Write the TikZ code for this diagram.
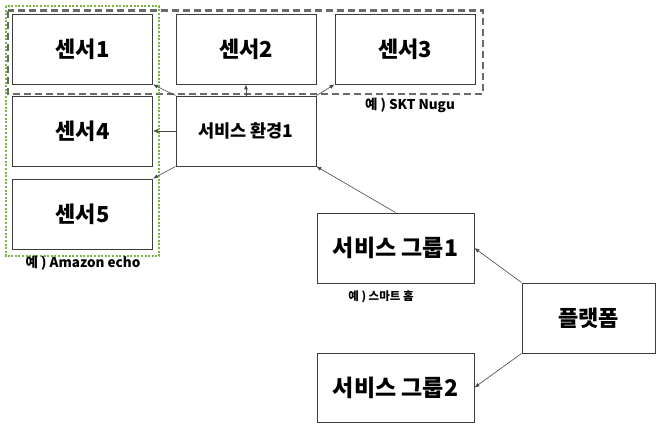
\documentclass[tikz,border=0pt]{standalone}
\usepackage{fontspec}
\setmainfont{Noto Sans CJK KR}
\usetikzlibrary{arrows.meta}
\definecolor{boxline}{RGB}{60,60,60}
\definecolor{arrline}{RGB}{70,70,70}
\definecolor{dashgrey}{RGB}{105,105,105}
\definecolor{dotgreen}{RGB}{125,180,70}
\tikzset{
  box/.style={draw=boxline, line width=0.9pt, rectangle, minimum width=140pt, minimum height=70pt, inner sep=0pt, font=\fontsize{22}{24}\selectfont\bfseries},
  envbox/.style={box, font=\fontsize{17.5}{20}\selectfont\bfseries},
  grpbox/.style={box, minimum width=157pt, font=\fontsize{23}{25}\selectfont\bfseries},
  conn/.style={draw=arrline, line width=0.6pt, -{Latex[length=5pt,width=4pt]}},
  note/.style={font=\fontsize{13.5}{15}\selectfont\bfseries, inner sep=0pt},
}
\begin{document}
\begin{tikzpicture}[x=1pt,y=-1pt]
\useasboundingbox (0,0) rectangle (657,424);
\node[box] (s1) at (82.5,49) {센서1};
\node[box] (s2) at (246,49) {센서2};
\node[box] (s3) at (405,49) {센서3};
\node[box] (s4) at (82.5,131) {센서4};
\node[envbox] (env) at (246,131) {서비스 환경1};
\node[box] (s5) at (82.5,214) {센서5};
\node[grpbox] (g1) at (395.5,248) {서비스 그룹1};
\node[grpbox, minimum height=69pt] (g2) at (395.5,387.5) {서비스 그룹2};
\node[box, minimum width=133pt] (pf) at (588.5,318) {플랫폼};
\draw[dashgrey, line width=2.6pt, dash pattern=on 7pt off 4pt] (8,10.7) rectangle (483,94);
\draw[dotgreen, line width=2.4pt, dash pattern=on 2pt off 1.6pt] (5.7,6) rectangle (159,256);
\node[note] (n1) at (410,105) {예 ) SKT Nugu};
\node[note] (n2) at (83,263) {예 ) Amazon echo};
\node[note, font=\fontsize{11.5}{13}\selectfont\bfseries] (n3) at (381,297) {예 ) 스마트 홈};
\draw[conn] (env.north west) -- (s1.south east);
\draw[conn] (env.north) -- (s2.south);
\draw[conn] (env.north east) -- (s3.south west);
\draw[conn] (env.west) -- (s4.east);
\draw[conn] (env.south west) -- (s5.north east);
\draw[conn] (g1.north) -- (env.south east);
\draw[conn] (pf.north west) -- (g1.east);
\draw[conn] (pf.south west) -- (g2.east);
\end{tikzpicture}
\end{document}
